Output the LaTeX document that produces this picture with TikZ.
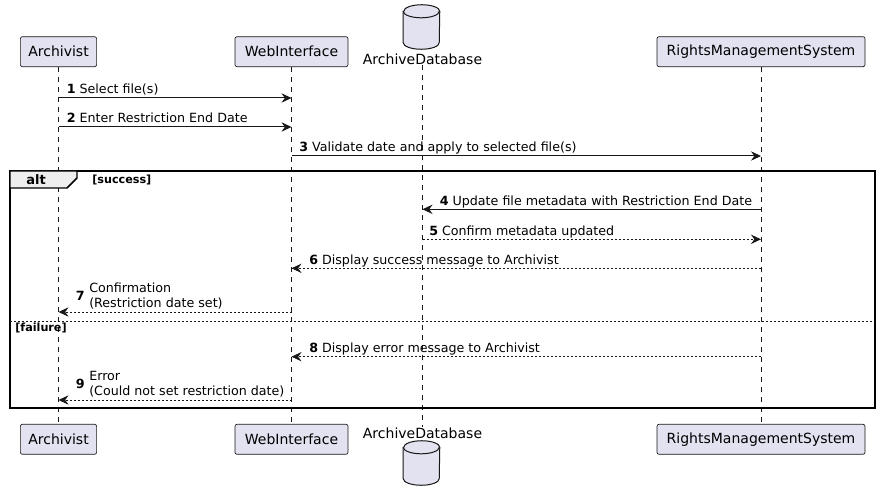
\documentclass[tikz,border=0pt]{standalone}
\usepackage{fontspec}
\setmainfont{DejaVu Sans}
\usetikzlibrary{shapes.geometric,arrows.meta,positioning}

\definecolor{umlfill}{HTML}{E2E2F0}
\definecolor{umlline}{HTML}{181818}
\definecolor{umltab}{HTML}{EEEEEE}

\tikzset{
	participant/.style={draw=umlline, fill=umlfill, rounded corners=1.5pt, line width=0.5pt, minimum height=22.5pt, inner sep=0pt, font=\fontsize{10.5}{12}\selectfont},
	dbbox/.style={minimum width=27pt, minimum height=33pt, inner sep=0pt},
	dbshape/.style={draw=umlline, fill=umlfill, line width=0.75pt},
	dbname/.style={inner sep=0pt, font=\fontsize{10.5}{12}\selectfont},
	lifeline/.style={draw=umlline, line width=0.4pt, dash pattern=on 3.75pt off 3.75pt},
	msg/.style={draw=umlline, line width=0.75pt, -{Stealth[length=7.5pt,width=7pt,inset=2.5pt]}},
	reply/.style={msg, dash pattern=on 1.5pt off 1.5pt},
	msglabel/.style={anchor=base west, inner sep=0pt, font=\fontsize{9.5}{11.25}\selectfont},
	grouplabel/.style={inner sep=0pt, font=\fontsize{8.4}{10}\selectfont\bfseries},
}

\begin{document}
\begin{tikzpicture}[x=0.75pt,y=-0.75pt]
	\useasboundingbox (0,0) rectangle (881,502);

	% participants, top
	\node [participant, minimum width=57.2pt] (arch) at (58.5,51.7) {Archivist};
	\node [participant, minimum width=84.75pt] (web) at (291.5,51.7) {WebInterface};
	\node [dbbox] (db) at (421.5,27) {};
	\node [dbname] (dbT) at (422.5,59.5) {ArchiveDatabase};
	\node [participant, minimum width=156pt] (rms) at (761,51.7) {RightsManagementSystem};

	% participants, bottom
	\node [participant, minimum width=57.2pt] (archB) at (58.5,439.3) {Archivist};
	\node [participant, minimum width=84.75pt] (webB) at (291.5,439.3) {WebInterface};
	\node [dbname] (dbB) at (422.5,433) {ArchiveDatabase};
	\node [dbbox] (dbBC) at (421.5,463) {};
	\node [participant, minimum width=156pt] (rmsB) at (761,439.3) {RightsManagementSystem};

	% database cylinders
	\draw [dbshape] ([yshift=-4.9pt]db.north west) -- ([yshift=4.9pt]db.south west)
		arc [start angle=180, end angle=360, x radius=13.5pt, y radius=4.9pt]
		-- ([yshift=-4.9pt]db.north east)
		arc [start angle=0, end angle=180, x radius=13.5pt, y radius=4.9pt] -- cycle;
	\draw [dbshape, fill=none] ([yshift=-4.9pt]db.north west) arc [start angle=180, end angle=360, x radius=13.5pt, y radius=4.9pt];
	\draw [dbshape] ([yshift=-4.9pt]dbBC.north west) -- ([yshift=4.9pt]dbBC.south west)
		arc [start angle=180, end angle=360, x radius=13.5pt, y radius=4.9pt]
		-- ([yshift=-4.9pt]dbBC.north east)
		arc [start angle=0, end angle=180, x radius=13.5pt, y radius=4.9pt] -- cycle;
	\draw [dbshape, fill=none] ([yshift=-4.9pt]dbBC.north west) arc [start angle=180, end angle=360, x radius=13.5pt, y radius=4.9pt];

	% lifelines
	\draw [lifeline] (arch) -- (archB);
	\draw [lifeline] (web) -- (webB);
	\draw [lifeline] (dbT) -- (dbB);
	\draw [lifeline] (rms) -- (rmsB);

	% alt frame
	\draw [line width=1.1pt] (10,171) rectangle (875,408);
	\draw [line width=1.1pt, fill=umltab] (10,171) -- (77,171) -- (77,178) -- (67,188) -- (10,188) -- cycle;
	\node [inner sep=0pt, font=\fontsize{9.75}{11}\selectfont\bfseries] (alt) at (36,180) {alt};
	\node [grouplabel, anchor=west] (succ) at (92,180) {[success]};
	\draw [draw=umlline, line width=0.75pt, dash pattern=on 1.5pt off 1.5pt] (10,321.5) -- (875,321.5);
	\node [grouplabel, anchor=west] (fail) at (15,328) {[failure]};

	% messages
	\draw [msg] (arch |- 0,98) -- (web |- 0,98);
	\node [msglabel] (l1) at (66.5,94) {\textbf{1} Select file(s)};
	\draw [msg] (arch |- 0,127) -- (web |- 0,127);
	\node [msglabel] (l2) at (66.5,123) {\textbf{2} Enter Restriction End Date};
	\draw [msg] (web |- 0,156) -- (rms |- 0,156);
	\node [msglabel] (l3) at (299,152) {\textbf{3} Validate date and apply to selected file(s)};

	\draw [msg] (rms |- 0,209.3) -- (dbT |- 0,209.3);
	\node [msglabel] (l4) at (439.5,205.3) {\textbf{4} Update file metadata with Restriction End Date};
	\draw [reply] (dbT |- 0,239.3) -- (rms |- 0,239.3);
	\node [msglabel] (l5) at (429,235.3) {\textbf{5} Confirm metadata updated};
	\draw [reply] (rms |- 0,268.3) -- (web |- 0,268.3);
	\node [msglabel] (l6) at (309,264.3) {\textbf{6} Display success message to Archivist};
	\draw [reply] (web |- 0,312) -- (arch |- 0,312);
	\node [msglabel, anchor=south west, align=left] (l7) at (89,309) {Confirmation\\(Restriction date set)};
	\node [msglabel, anchor=east, font=\fontsize{9.5}{11}\selectfont\bfseries] (n7) at ([xshift=-3pt]l7.west) {7};

	\draw [reply] (rms |- 0,356.7) -- (web |- 0,356.7);
	\node [msglabel] (l8) at (309,352.7) {\textbf{8} Display error message to Archivist};
	\draw [reply] (web |- 0,400) -- (arch |- 0,400);
	\node [msglabel, anchor=south west, align=left] (l9) at (89,397) {Error\\(Could not set restriction date)};
	\node [msglabel, anchor=east, font=\fontsize{9.5}{11}\selectfont\bfseries] (n9) at ([xshift=-3pt]l9.west) {9};
\end{tikzpicture}
\end{document}
